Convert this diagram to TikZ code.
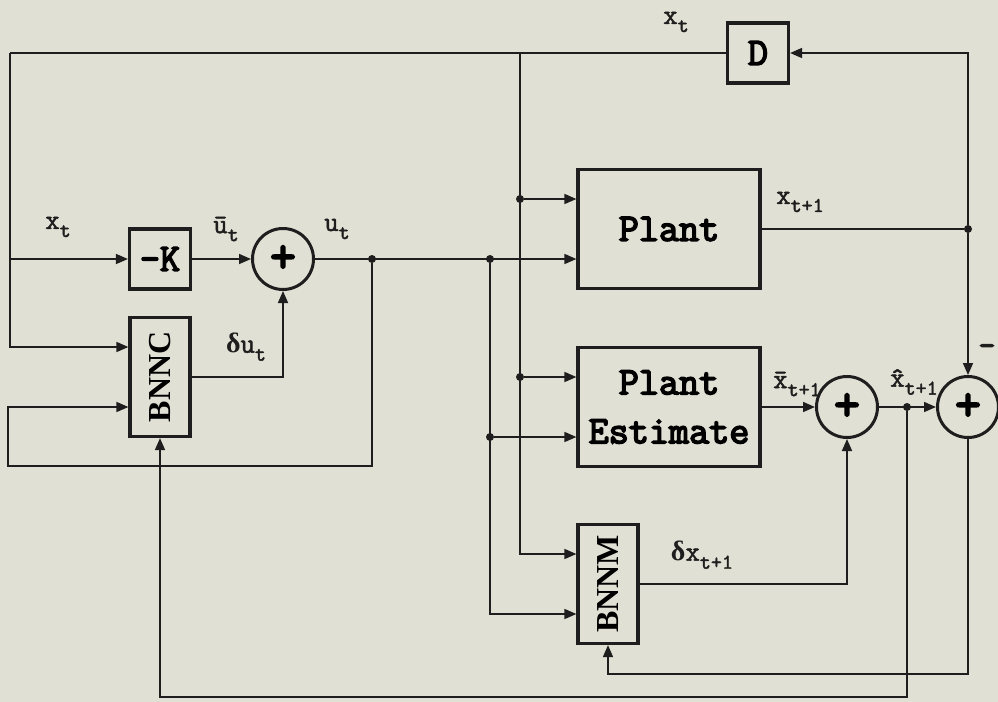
\documentclass[tikz,border=0pt]{standalone}
\usepackage{fontspec}
\newfontfamily\boxfont{Latin Modern Mono}[FakeBold=4]
\newfontfamily\sigfont{Latin Modern Mono}[FakeBold=1.8]
\newfontfamily\grkfont{Liberation Serif}
\newfontfamily\blkfont{Liberation Serif}
\usetikzlibrary{arrows.meta}

\definecolor{paper}{RGB}{224,224,212}
\definecolor{ink}{RGB}{30,30,30}

% signal name with lowered subscript
\newcommand{\sig}[2]{#1\raisebox{-4pt}{\fontsize{10.5pt}{10.5pt}\selectfont #2}}
\newcommand{\dlt}{{\grkfont\bfseries δ}}

\tikzset{
  block/.style={draw=ink, line width=1.6pt, inner sep=0pt, align=center,
    font=\fontsize{19.5pt}{24.5pt}\selectfont\boxfont},
  netbox/.style={draw=ink, line width=1.6pt, inner sep=0pt,
    minimum width=30pt, minimum height=59.5pt,
    font=\fontsize{16pt}{16pt}\selectfont\blkfont\bfseries},
  sumnode/.style={draw=ink, circle, line width=1.5pt, minimum size=30.5pt,
    inner sep=0pt, font=\fontsize{25pt}{25pt}\selectfont\boxfont},
  wire/.style={draw=ink, line width=0.8pt},
  arr/.style={wire, -{Triangle[length=6pt,width=5pt]}},
  jdot/.style={circle, fill=ink, inner sep=0pt, minimum size=4pt},
  sigtxt/.style={text=ink, font=\fontsize{14pt}{14pt}\selectfont\sigfont},
}

\begin{document}
\begin{tikzpicture}[x=0.5pt, y=-0.5pt]

  % Page
  \fill[paper] (0,0) rectangle (998,702);
  \useasboundingbox (0,0) rectangle (998,702);

  % Blocks
  \node[block, minimum width=30.5pt, minimum height=30pt] (gain) at (160,259) {-K};
  \node[netbox] (bnnc) at (160,377) {\rotatebox{90}{BNNC}};
  \node[sumnode] (sumu) at (283,259) {+};
  \node[block, minimum width=30.5pt, minimum height=30pt] (delay) at (758,53) {D};
  \node[block, minimum width=91pt, minimum height=59.5pt] (plant) at (669,229) {Plant};
  \node[block, minimum width=91pt, minimum height=59.5pt] (est) at (669,407) {Plant\\Estimate};
  \node[netbox] (bnnm) at (608,584) {\rotatebox{90}{BNNM}};
  \node[sumnode] (sumx) at (847,407) {+};
  \node[sumnode] (sumerr) at (968,407) {+};

  % Branch points
  \coordinate (lft) at (10,53);
  \coordinate (tap) at (520,53);
  \coordinate (loopc) at (8,466);
  \node[jdot] (ju1) at (372,259) {};
  \node[jdot] (ju2) at (490,259) {};
  \node[jdot] (ju3) at (490,437) {};
  \node[jdot] (jx1) at (520,199) {};
  \node[jdot] (jx2) at (520,377) {};
  \node[jdot] (jp) at (968,229) {};
  \node[jdot] (jh) at (907,407) {};

  % Controller side
  \draw[wire] (delay.west) -- (lft);
  \draw[arr] (lft) |- ([yshift=15pt]bnnc.west);
  \draw[arr] (lft |- gain) -- (gain.west);
  \draw[arr] (gain) -- (sumu);
  \draw[arr] (bnnc.east) -| (sumu.south);
  \draw[arr] (sumu.east) -- ([yshift=-15pt]plant.west);
  \draw[arr] (ju1) |- (loopc) |- ([yshift=-15pt]bnnc.west);

  % Plant and model side
  \draw[arr] (tap) |- ([yshift=15pt]bnnm.west);
  \draw[arr] (jx1) -- ([yshift=15pt]plant.west);
  \draw[arr] (jx2) -- ([yshift=15pt]est.west);
  \draw[arr] (ju2) |- ([yshift=-15pt]bnnm.west);
  \draw[arr] (ju3) -- ([yshift=-15pt]est.west);
  \draw[wire] (plant.east) -- (jp);
  \draw[arr] (jp) |- (delay.east);
  \draw[arr] (jp) -- (sumerr.north);
  \draw[arr] (est.east) -- (sumx.west);
  \draw[arr] (bnnm.east) -| (sumx.south);
  \draw[arr] (sumx.east) -- (sumerr.west);
  \draw[arr] (sumerr.south) -- ++(0,235) -| (bnnm.south);
  \draw[arr] (jh) -- ++(0,290) -| (bnnc.south);

  % Signal labels
  \node[sigtxt] (lxtop) at (676,22) {\sig{x}{t}};
  \node[sigtxt] (lxt) at (58,227) {\sig{x}{t}};
  \node[sigtxt] (lubar) at (226,229) {\sig{\={u}}{t}};
  \node[sigtxt] (lu) at (337,229) {\sig{u}{t}};
  \node[sigtxt] (ldu) at (246,347) {\sig{\dlt u}{t}};
  \node[sigtxt] (lxnext) at (800,202) {\sig{x}{t+1}};
  \node[sigtxt] (lxbar) at (797,384) {\sig{\={x}}{t+1}};
  \node[sigtxt] (lxhat) at (914,382) {\sig{\^{x}}{t+1}};
  \node[sigtxt] (ldx) at (702,555) {\sig{\dlt x}{t+1}};
  \node[sigtxt, font=\fontsize{16pt}{16pt}\selectfont\boxfont] (lminus) at (987,350) {-};

\end{tikzpicture}
\end{document}
